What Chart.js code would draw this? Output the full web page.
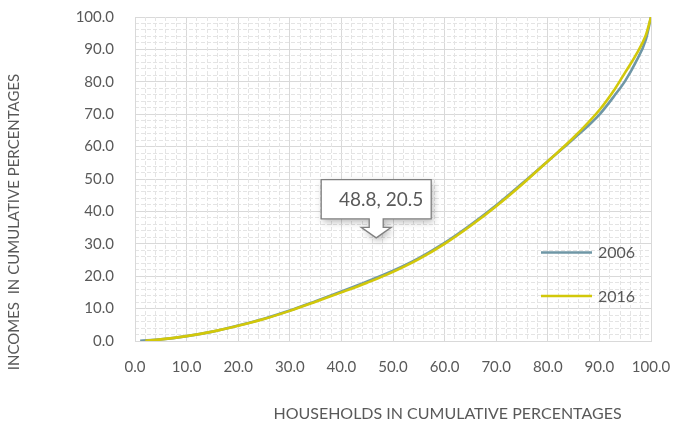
<!DOCTYPE html>
<html>
<head>
<meta charset="utf-8">
<script src="https://cdn.jsdelivr.net/npm/chart.js@4.4.1/dist/chart.umd.min.js"></script>
<style>
  html, body { margin: 0; padding: 0; background: #ffffff; }
  canvas { display: block; }
</style>
</head>
<body>
<canvas id="lorenz" width="686" height="423"></canvas>
<script>
// Lorenz curves: cumulative share of households vs cumulative share of income
const seriesLabels = ['2006', '2016'];

const households2006 = [1, 5, 10, 15, 20, 25, 30, 35, 40, 45, 50, 55, 60, 65, 70, 75, 80, 85, 90, 93, 95, 97, 99, 100];
const incomes2006    = [0.1, 0.5, 1.5, 2.9, 4.8, 6.9, 9.4, 12.3, 15.3, 18.4, 21.7, 25.6, 30.3, 35.8, 41.9, 48.6, 55.5, 62.4, 69.9, 75.9, 80.3, 85.9, 93.0, 100];

const households2016 = [2, 5, 10, 15, 20, 25, 30, 35, 40, 45, 48.8, 55, 60, 65, 70, 75, 80, 85, 90, 93, 95, 97, 99, 100];
const incomes2016    = [0.1, 0.5, 1.5, 2.9, 4.7, 6.8, 9.3, 12.1, 15.0, 18.0, 20.5, 25.3, 30.0, 35.5, 41.6, 48.3, 55.5, 62.8, 71.3, 77.8, 82.9, 88.1, 94.4, 100];

// highlighted point of the 2016 curve (index into the 2016 arrays)
const calloutIndex = 10;

const tickValues = [0, 10, 20, 30, 40, 50, 60, 70, 80, 90, 100];
const xTitle = 'HOUSEHOLDS IN CUMULATIVE PERCENTAGES';
const yTitle = 'INCOMES  IN CUMULATIVE PERCENTAGES';

const INK = '#595959';
const FONT = 'Lato, "Open Sans", sans-serif';
const COLOR_2006 = '#6F97A6';
const COLOR_2016 = '#D2C80A';
const MAJOR_GRID = '#d9d9d9';
const MINOR_GRID = '#e4e4e4';

const toPoints = (xs, ys) => xs.map((x, i) => ({ x: x, y: ys[i] }));

// Draws the axis titles, the in-plot legend and the value callout
const decorations = {
  id: 'decorations',
  afterDatasetsDraw(chart) {
    const { ctx, chartArea, scales } = chart;
    ctx.save();

    // legend inside the plot, lower right
    const legendColors = [COLOR_2006, COLOR_2016];
    const rows = [chartArea.top + 235.5, chartArea.top + 279];
    seriesLabels.forEach((label, i) => {
      const y = rows[i];
      ctx.strokeStyle = legendColors[i];
      ctx.lineWidth = 2.6;
      ctx.beginPath();
      ctx.moveTo(chartArea.right - 110, y);
      ctx.lineTo(chartArea.right - 59, y);
      ctx.stroke();
      ctx.fillStyle = INK;
      ctx.font = '16px ' + FONT;
      ctx.textAlign = 'left';
      ctx.textBaseline = 'middle';
      ctx.fillText(label, chartArea.right - 53, y + 0.5);
    });

    // callout for the highlighted 2016 value
    const vx = households2016[calloutIndex];
    const vy = incomes2016[calloutIndex];
    const px = scales.x.getPixelForValue(vx);
    const py = scales.y.getPixelForValue(vy);
    const tx = px - 10.6, ty = py - 36.7;
    const left = tx - 55, right = tx + 55, top = ty - 58.3, bottom = ty - 19;
    ctx.beginPath();
    ctx.moveTo(left, top);
    ctx.lineTo(right, top);
    ctx.lineTo(right, bottom);
    ctx.lineTo(tx + 7, bottom);
    ctx.lineTo(tx + 7, ty - 10.5);
    ctx.lineTo(tx + 15, ty - 10.5);
    ctx.lineTo(tx, ty);
    ctx.lineTo(tx - 15, ty - 10.5);
    ctx.lineTo(tx - 7, ty - 10.5);
    ctx.lineTo(tx - 7, bottom);
    ctx.lineTo(left, bottom);
    ctx.closePath();
    ctx.save();
    ctx.shadowColor = 'rgba(0,0,0,0.28)';
    ctx.shadowBlur = 7;
    ctx.shadowOffsetX = 2;
    ctx.shadowOffsetY = 3;
    ctx.fillStyle = '#ffffff';
    ctx.fill();
    ctx.restore();
    ctx.strokeStyle = '#808080';
    ctx.lineWidth = 1.3;
    ctx.stroke();
    ctx.fillStyle = INK;
    ctx.font = '19px ' + FONT;
    ctx.textAlign = 'center';
    ctx.textBaseline = 'middle';
    ctx.fillText(vx.toFixed(1) + ', ' + vy.toFixed(1), tx + 5, (top + bottom) / 2 + 1);

    ctx.restore();
  },
  afterDraw(chart) {
    const { ctx } = chart;
    ctx.save();
    ctx.fillStyle = INK;
    ctx.textAlign = 'center';
    ctx.textBaseline = 'middle';
    ctx.font = '16px ' + FONT;
    ctx.fillText(xTitle, 447.5, 414);
    ctx.font = '15px ' + FONT;
    ctx.translate(14, 222);
    ctx.rotate(-Math.PI / 2);
    ctx.fillText(yTitle, 0, 0);
    ctx.restore();
  }
};

const tickLabel = v => Number(v).toFixed(1);
const majorTicks = (padding) => ({
  autoSkip: false,
  maxRotation: 0,
  padding: padding,
  color: INK,
  font: { family: FONT, size: 15 },
  callback: tickLabel
});
const minorGridColor = c => (c.tick && Math.round(c.tick.value) % 10 === 0) ? 'rgba(0,0,0,0)' : MINOR_GRID;
// the plot box is sized by the layout padding alone, not by label overflow
const noOverflow = s => { s.paddingTop = 0; s.paddingBottom = 0; s.paddingLeft = 0; s.paddingRight = 0; };

new Chart(document.getElementById('lorenz'), {
  type: 'line',
  data: {
    datasets: [
      {
        label: seriesLabels[1],
        data: toPoints(households2016, incomes2016),
        borderColor: COLOR_2016,
        backgroundColor: COLOR_2016,
        borderWidth: 2.6,
        pointRadius: 0,
        cubicInterpolationMode: 'monotone',
        fill: false,
        order: 0
      },
      {
        label: seriesLabels[0],
        data: toPoints(households2006, incomes2006),
        borderColor: COLOR_2006,
        backgroundColor: COLOR_2006,
        borderWidth: 2.6,
        pointRadius: 0,
        cubicInterpolationMode: 'monotone',
        fill: false,
        order: 1
      }
    ]
  },
  options: {
    responsive: false,
    animation: false,
    devicePixelRatio: 1,
    layout: { padding: { top: 17, right: 35, left: 0, bottom: 0 } },
    plugins: {
      legend: { display: false },
      tooltip: { enabled: false }
    },
    scales: {
      x: {
        type: 'linear',
        position: 'bottom',
        min: tickValues[0],
        max: tickValues[tickValues.length - 1],
        afterBuildTicks: s => { s.ticks = tickValues.map(v => ({ value: v })); },
        ticks: majorTicks(17),
        grid: { color: MAJOR_GRID, drawTicks: false, lineWidth: 1 },
        border: { color: MAJOR_GRID, width: 1 },
        afterFit: s => { s.height = 82; noOverflow(s); }
      },
      y: {
        type: 'linear',
        position: 'left',
        min: tickValues[0],
        max: tickValues[tickValues.length - 1],
        afterBuildTicks: s => { s.ticks = tickValues.map(v => ({ value: v })); },
        ticks: majorTicks(21),
        grid: { color: MAJOR_GRID, drawTicks: false, lineWidth: 1 },
        border: { color: MAJOR_GRID, width: 1 },
        afterFit: s => { s.width = 135; noOverflow(s); }
      },
      xMinor: {
        type: 'linear',
        position: 'bottom',
        min: 0,
        max: 100,
        ticks: { display: false, stepSize: 2, autoSkip: false },
        grid: { color: minorGridColor, drawTicks: false, lineWidth: 1 },
        border: { display: false, dash: [4, 2] },
        afterFit: s => { s.height = 0; noOverflow(s); }
      },
      yMinor: {
        type: 'linear',
        position: 'left',
        min: 0,
        max: 100,
        ticks: { display: false, stepSize: 2, autoSkip: false },
        grid: { color: minorGridColor, drawTicks: false, lineWidth: 1 },
        border: { display: false, dash: [4, 2] },
        afterFit: s => { s.width = 0; noOverflow(s); }
      }
    }
  },
  plugins: [decorations]
});
</script>
</body>
</html>
